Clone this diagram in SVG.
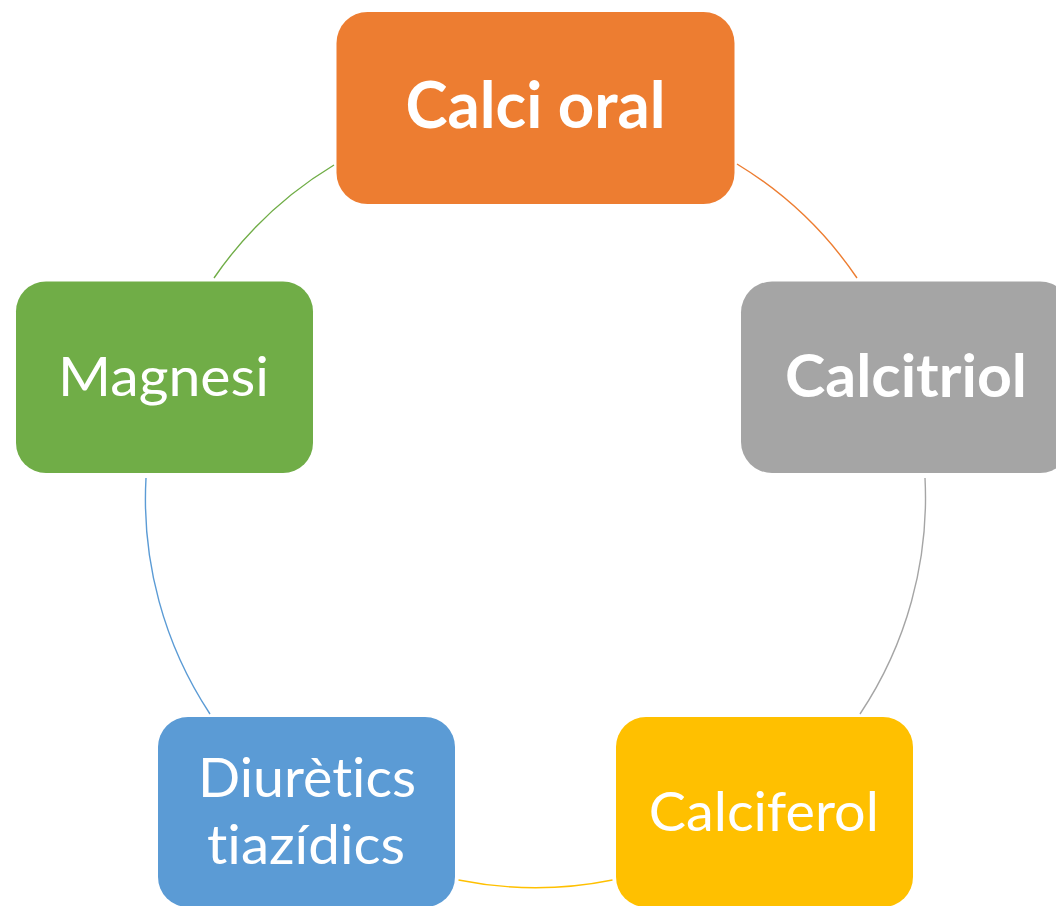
<svg xmlns="http://www.w3.org/2000/svg" width="1056" height="906" viewBox="0 0 1056 906">
  <style>
    .box { stroke: none; }
    .lbl { font-family: Lato, "Open Sans", "Liberation Sans", sans-serif; fill: #ffffff; text-anchor: middle; font-variant-ligatures: none; font-feature-settings: "liga" 0, "dlig" 0; }
    .reg { font-size: 55px; font-weight: 400; }
    .bold { font-weight: 700; }
    .arc { fill: none; stroke-width: 1.4; }
  </style>
  <rect width="1056" height="906" fill="#ffffff"/>

  <!-- connecting arcs along the cycle circle (centre 535.5,497 r 389.5) -->
  <g id="connectors">
    <path class="arc" stroke="#ED7D31" d="M737,164 A389.5,389.5 0 0 1 857,278"/>
    <path class="arc" stroke="#A5A5A5" d="M925,478 A389.5,389.5 0 0 1 860,714"/>
    <path class="arc" stroke="#FFC000" d="M612.5,880 A389.5,389.5 0 0 1 458.5,880"/>
    <path class="arc" stroke="#5B9BD5" d="M210,714 A389.5,389.5 0 0 1 146,478"/>
    <path class="arc" stroke="#70AD47" d="M214,278 A389.5,389.5 0 0 1 334,165"/>
  </g>

  <g id="calci-oral">
    <rect class="box" x="336.5" y="12" width="398" height="192" rx="31" fill="#ED7D31"/>
    <text class="lbl bold" x="535.5" y="128.3" font-size="65" textLength="260" lengthAdjust="spacingAndGlyphs">Calci oral</text>
  </g>

  <g id="calcitriol">
    <rect class="box" x="741" y="281.5" width="330" height="191.5" rx="31" fill="#A5A5A5"/>
    <text class="lbl bold" x="906" y="396.7" font-size="60" textLength="242" lengthAdjust="spacingAndGlyphs">Calcitriol</text>
  </g>

  <g id="calciferol">
    <rect class="box" x="616" y="717" width="297" height="190" rx="30" fill="#FFC000"/>
    <text class="lbl reg" x="763.8" y="830.7" textLength="230" lengthAdjust="spacingAndGlyphs">Calciferol</text>
  </g>

  <g id="diuretics-tiazidics">
    <rect class="box" x="158" y="717" width="297" height="190" rx="30" fill="#5B9BD5"/>
    <text class="lbl reg" x="307" y="796.7" textLength="218" lengthAdjust="spacingAndGlyphs">Diurètics</text>
    <text class="lbl reg" x="306" y="864" textLength="198" lengthAdjust="spacingAndGlyphs">tiazídics</text>
  </g>

  <g id="magnesi">
    <rect class="box" x="16" y="281.5" width="297" height="191.5" rx="30" fill="#70AD47"/>
    <text class="lbl reg" x="163.5" y="396" textLength="211" lengthAdjust="spacingAndGlyphs">Magnesi</text>
  </g>
</svg>
